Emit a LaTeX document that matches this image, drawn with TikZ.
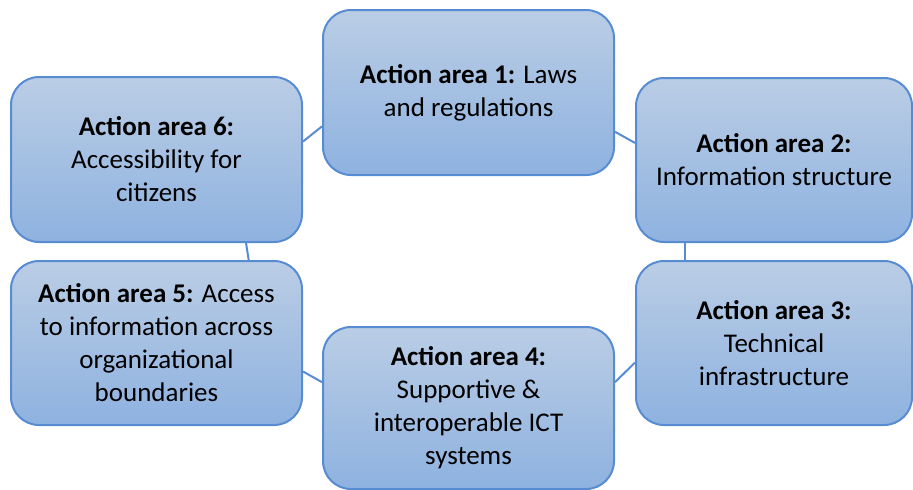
\documentclass[tikz,border=0pt]{standalone}
\usepackage{fontspec}
\setmainfont{Carlito}
\usepackage{tikz}
\usepackage{xcolor}
\definecolor{areaedge}{RGB}{88,140,210}
\definecolor{areatop}{RGB}{186,205,229}
\definecolor{areabottom}{RGB}{142,178,224}
\tikzstyle{areabox} = [draw=areaedge, line width=1pt, top color=areatop, bottom color=areabottom, rectangle, rounded corners=14pt, inner sep=0pt, align=center, font=\fontsize{13.5}{16.5}\selectfont]
\tikzstyle{ring} = [draw=areaedge, line width=1pt]

\begin{document}
\begin{tikzpicture}[x=0.5pt, y=-0.5pt]
\useasboundingbox (0,0) rectangle (913,489);
\node [areabox, minimum width=145.5pt, minimum height=82.5pt] (area1) at (468.5,92.5)
    {\textbf{Action area 1:} Laws\\and regulations};
\node [areabox, minimum width=138pt, minimum height=82pt] (area2) at (774,160)
    {\textbf{Action area 2:}\\Information structure};
\node [areabox, minimum width=138pt, minimum height=82pt] (area3) at (774,343)
    {\textbf{Action area 3:}\\Technical\\infrastructure};
\node [areabox, minimum width=145.5pt, minimum height=81pt] (area4) at (468.5,408)
    {\textbf{Action area 4:}\\Supportive \&\\interoperable ICT\\systems};
\node [areabox, minimum width=145.5pt, minimum height=82pt] (area5) at (156.5,343)
    {\textbf{Action area 5:} Access\\to information across\\organizational\\boundaries};
\node [areabox, minimum width=145.5pt, minimum height=82.5pt] (area6) at (156.5,159.5)
    {\textbf{Action area 6:}\\Accessibility for\\citizens};
% links around the cycle
\draw [ring] (area1.345.5) -- (area2.173.8);
\draw [ring] (area2.223) -- (area3.137);
\draw [ring] (area3.188.7) -- (area4.10.1);
\draw [ring] (area4.170.3) -- (area5.349.5);
\draw [ring] (area5.42.2) -- (area6.317.6);
\draw [ring] (area6.7.6) -- (area1.193.3);
\end{tikzpicture}
\end{document}
